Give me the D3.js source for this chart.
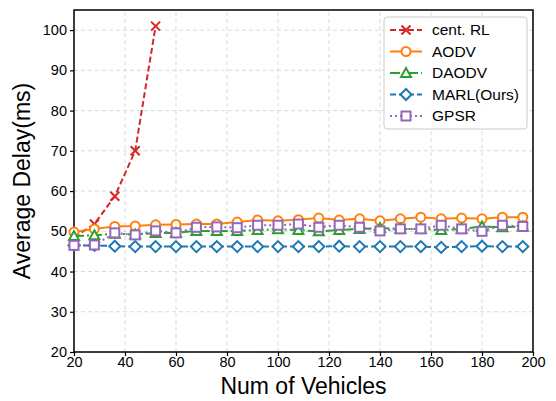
<!DOCTYPE html>
<html>
<head>
<meta charset="utf-8">
<script src="https://cdn.jsdelivr.net/npm/d3@7"></script>
<style>
  body { margin: 0; background: #fff; }
  text { font-family: "Liberation Sans", Arial, Helvetica, sans-serif; fill: #000; }
</style>
</head>
<body>
<div id="chart"></div>
<script>
// Average delay vs number of vehicles

var vehicles = [20, 28, 36, 44, 52, 60, 68, 76, 84, 92, 100, 108, 116, 124, 132, 140, 148, 156, 164, 172, 180, 188, 196];

var centRL = [48.5, 51.8, 58.7, 70.0, 101.0];
var aodv   = [49.8, 50.6, 51.2, 51.3, 51.6, 51.7, 51.8, 51.8, 52.3, 52.8, 52.6, 52.9, 53.3, 52.8, 53.1, 52.6, 53.1, 53.5, 53.1, 53.3, 53.1, 53.5, 53.5];
var daodv  = [48.8, 49.0, 49.4, 49.2, 49.6, 49.6, 50.1, 50.1, 50.1, 50.3, 50.5, 50.3, 50.0, 50.3, 50.6, 50.8, 50.6, 50.6, 50.3, 50.6, 51.2, 51.0, 51.2];
var marl   = [46.5, 46.5, 46.3, 46.2, 46.2, 46.2, 46.2, 46.2, 46.2, 46.2, 46.2, 46.2, 46.2, 46.3, 46.2, 46.2, 46.2, 46.2, 46.0, 46.2, 46.3, 46.2, 46.2];
var gpsr   = [46.5, 46.6, 49.6, 49.1, 50.1, 49.6, 51.0, 51.1, 50.9, 51.5, 51.5, 51.8, 51.0, 51.5, 51.0, 50.1, 50.6, 50.6, 51.5, 50.6, 50.0, 51.5, 51.2];

var xTicks = [20, 40, 60, 80, 100, 120, 140, 160, 180, 200];
var yTicks = [20, 30, 40, 50, 60, 70, 80, 90, 100];

var seriesNames = ["cent. RL", "AODV", "DAODV", "MARL(Ours)", "GPSR"];

var WIDTH = 556;
var HEIGHT = 401;
var margin = { left: 74, right: 23, top: 10, bottom: 49 };

var series = [
    { name: seriesNames[0], values: centRL, color: "#d62728", dash: "6,3",        marker: "x" },
    { name: seriesNames[1], values: aodv,   color: "#ff7f0e", dash: null,         marker: "circle" },
    { name: seriesNames[2], values: daodv,  color: "#2ca02c", dash: "10,3,2,3",   marker: "triangle" },
    { name: seriesNames[3], values: marl,   color: "#1f77b4", dash: "6,3",        marker: "diamond" },
    { name: seriesNames[4], values: gpsr,   color: "#9467bd", dash: "2,3",        marker: "square" }
];

var svg = d3.select("#chart").append("svg")
    .attr("width", WIDTH)
    .attr("height", HEIGHT);

var x = d3.scaleLinear().domain([20, 200]).range([margin.left, WIDTH - margin.right]);
var y = d3.scaleLinear().domain([20, 105]).range([HEIGHT - margin.bottom, margin.top]);

// grid
var grid = svg.append("g");
grid.selectAll("line.gx")
    .data(xTicks)
    .enter().append("line")
    .attr("x1", function(d) { return x(d); })
    .attr("x2", function(d) { return x(d); })
    .attr("y1", y.range()[0])
    .attr("y2", y.range()[1])
    .attr("stroke", "#d9d9d9")
    .attr("stroke-width", 1)
    .attr("stroke-dasharray", "4,3");
grid.selectAll("line.gy")
    .data(yTicks)
    .enter().append("line")
    .attr("y1", function(d) { return y(d); })
    .attr("y2", function(d) { return y(d); })
    .attr("x1", x.range()[0])
    .attr("x2", x.range()[1])
    .attr("stroke", "#d9d9d9")
    .attr("stroke-width", 1)
    .attr("stroke-dasharray", "4,3");

// axes
var xAxis = svg.append("g")
    .attr("transform", "translate(0," + y.range()[0] + ")")
    .call(d3.axisBottom(x).tickValues(xTicks).tickSize(4).tickPadding(1));
var yAxis = svg.append("g")
    .attr("transform", "translate(" + x.range()[0] + ",0)")
    .call(d3.axisLeft(y).tickValues(yTicks).tickSize(4).tickPadding(3));

[xAxis, yAxis].forEach(function(a) {
    a.select(".domain").remove();
    a.selectAll("line").attr("stroke", "#000").attr("stroke-width", 1.2);
    a.selectAll("text")
        .style("font-family", "'Liberation Sans', Arial, sans-serif")
        .style("font-size", "14.5px")
        .attr("fill", "#000");
});

// frame
svg.append("rect")
    .attr("x", x.range()[0])
    .attr("y", y.range()[1])
    .attr("width", x.range()[1] - x.range()[0])
    .attr("height", y.range()[0] - y.range()[1])
    .attr("fill", "none")
    .attr("stroke", "#000")
    .attr("stroke-width", 1.5);

// axis titles
svg.append("text")
    .attr("x", (x.range()[0] + x.range()[1]) / 2)
    .attr("y", 394)
    .attr("text-anchor", "middle")
    .style("font-size", "23px")
    .text("Num of Vehicles");

svg.append("text")
    .attr("transform", "translate(30," + ((y.range()[0] + y.range()[1]) / 2) + ") rotate(-90)")
    .attr("text-anchor", "middle")
    .style("font-size", "23px")
    .text("Average Delay(ms)");

function drawMarker(g, type, color, cx, cy) {
    var s = 4.5;
    if (type === "x") {
        g.append("path")
            .attr("d", "M" + (cx - s) + "," + (cy - s) + "L" + (cx + s) + "," + (cy + s) +
                       "M" + (cx - s) + "," + (cy + s) + "L" + (cx + s) + "," + (cy - s))
            .attr("stroke", color).attr("stroke-width", 2).attr("fill", "none");
    } else if (type === "circle") {
        g.append("circle").attr("cx", cx).attr("cy", cy).attr("r", 4.5)
            .attr("fill", "#fff").attr("stroke", color).attr("stroke-width", 2);
    } else if (type === "triangle") {
        g.append("path")
            .attr("d", "M" + cx + "," + (cy - 5) + "L" + (cx + 5) + "," + (cy + 4) + "L" + (cx - 5) + "," + (cy + 4) + "Z")
            .attr("fill", "#fff").attr("stroke", color).attr("stroke-width", 2);
    } else if (type === "diamond") {
        g.append("path")
            .attr("d", "M" + cx + "," + (cy - 5.5) + "L" + (cx + 5.5) + "," + cy + "L" + cx + "," + (cy + 5.5) + "L" + (cx - 5.5) + "," + cy + "Z")
            .attr("fill", "#fff").attr("stroke", color).attr("stroke-width", 2);
    } else if (type === "square") {
        g.append("rect").attr("x", cx - 4.5).attr("y", cy - 4.5).attr("width", 9).attr("height", 9)
            .attr("fill", "#fff").attr("stroke", color).attr("stroke-width", 2);
    }
}

var line = d3.line()
    .x(function(d) { return x(d[0]); })
    .y(function(d) { return y(d[1]); });

series.forEach(function(s) {
    var pts = s.values.map(function(v, i) { return [vehicles[i], v]; });
    var g = svg.append("g");
    g.append("path")
        .attr("d", line(pts))
        .attr("fill", "none")
        .attr("stroke", s.color)
        .attr("stroke-width", 2)
        .attr("stroke-dasharray", s.dash);
    pts.forEach(function(p) {
        drawMarker(g, s.marker, s.color, x(p[0]), y(p[1]));
    });
});

// legend
var lx = 384, ly = 17, lw = 143, lh = 112, step = 21.5;
var legend = svg.append("g");
legend.append("rect")
    .attr("x", lx).attr("y", ly)
    .attr("width", lw).attr("height", lh)
    .attr("rx", 3)
    .attr("fill", "#fff")
    .attr("fill-opacity", 0.9)
    .attr("stroke", "#cccccc")
    .attr("stroke-width", 1);

series.forEach(function(s, i) {
    var yy = ly + 13 + i * step;
    legend.append("line")
        .attr("x1", lx + 6).attr("x2", lx + 38)
        .attr("y1", yy).attr("y2", yy)
        .attr("stroke", s.color)
        .attr("stroke-width", 2)
        .attr("stroke-dasharray", s.dash);
    drawMarker(legend, s.marker, s.color, lx + 22, yy);
    legend.append("text")
        .attr("x", lx + 48)
        .attr("y", yy + 5)
        .style("font-size", "15.5px")
        .text(s.name);
});
</script>
</body>
</html>
